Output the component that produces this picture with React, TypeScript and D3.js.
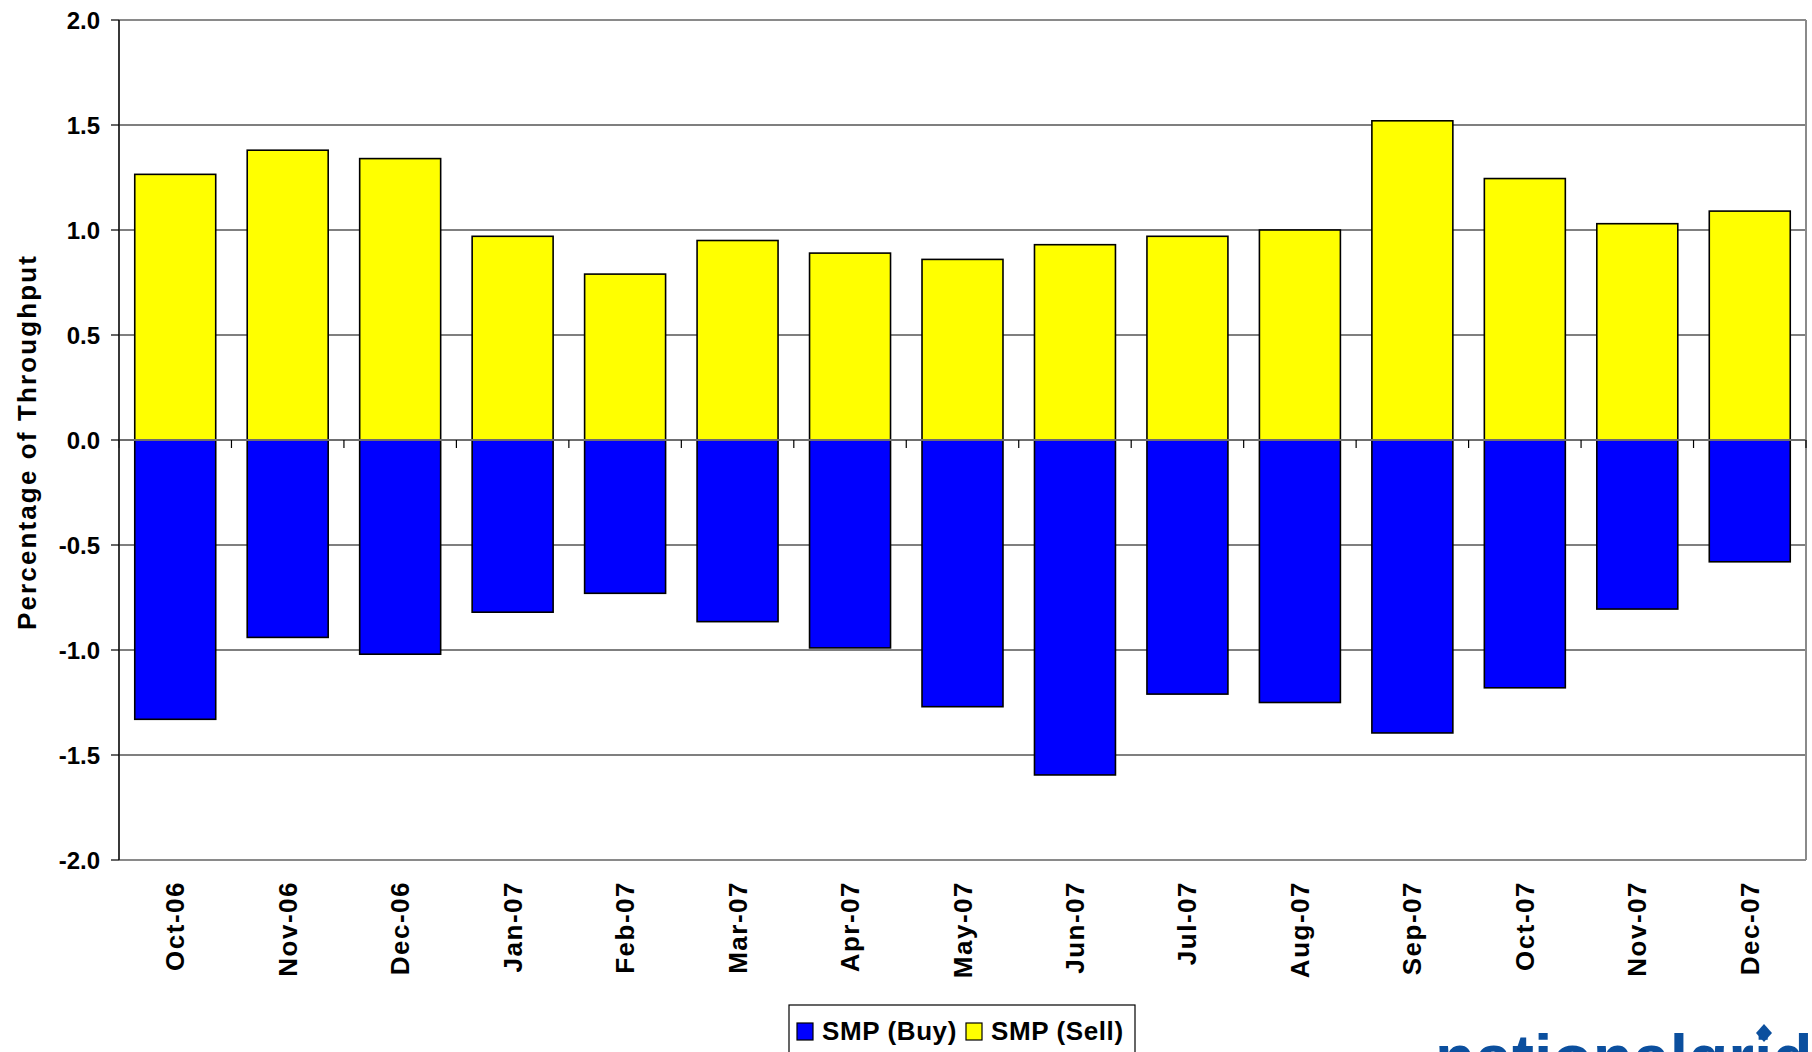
import * as d3 from 'd3';

const months = [
  'Oct-06', 'Nov-06', 'Dec-06', 'Jan-07', 'Feb-07', 'Mar-07', 'Apr-07', 'May-07',
  'Jun-07', 'Jul-07', 'Aug-07', 'Sep-07', 'Oct-07', 'Nov-07', 'Dec-07',
];
const smpBuy = [-1.33, -0.94, -1.02, -0.82, -0.73, -0.865, -0.99, -1.27, -1.595, -1.21, -1.25, -1.395, -1.18, -0.805, -0.58];
const smpSell = [1.265, 1.38, 1.34, 0.97, 0.79, 0.95, 0.89, 0.86, 0.93, 0.97, 1.0, 1.52, 1.245, 1.03, 1.09];
const yTicks = [-2.0, -1.5, -1.0, -0.5, 0.0, 0.5, 1.0, 1.5, 2.0];
const seriesKeys = ['buy', 'sell'];
const seriesLabels = ['SMP (Buy)', 'SMP (Sell)'];
const seriesColors = ['#0000ff', '#ffff00'];

const W = 1812;
const H = 1052;
const left = 119;
const right = 1806;
const top = 20;
const bottom = 860;
const font = 'Arial, "Liberation Sans", sans-serif';

// Excel style tick text: plain hyphen for negatives
const fmt = (v: number) => d3.format('.1f')(v).replace('\u2212', '-');

export default function App() {
  const x = d3.scaleBand<string>()
    .domain(months)
    .range([left, right])
    .paddingInner(0.28)
    .paddingOuter(0.14);
  const y = d3.scaleLinear().domain([-2, 2]).range([bottom, top]);

  const rows = months.map((m, i) => ({ month: m, buy: smpBuy[i], sell: smpSell[i] }));
  const stacked = d3.stack<any>()
    .keys(seriesKeys)
    .offset(d3.stackOffsetDiverging)(rows);

  const step = x.step();
  const boundaries = d3.range(months.length + 1).map(i => left + i * step);

  return (
    <svg
      width={W}
      height={H}
      viewBox={`0 0 ${W} ${H}`}
      style={{ position: 'absolute', left: 0, top: 0, display: 'block', background: '#fff' }}
      fontFamily={font}
    >
      {/* gridlines */}
      {yTicks.filter(t => t !== 0 && t !== -2 && t !== 2).map(t => (
        <line key={t} x1={left} x2={right} y1={y(t)} y2={y(t)} stroke="#000" strokeWidth={1.2} />
      ))}
      {/* plot frame */}
      <line x1={left} x2={right} y1={top} y2={top} stroke="#8a8a8a" strokeWidth={2} />
      <line x1={right} x2={right} y1={top} y2={bottom} stroke="#8a8a8a" strokeWidth={2} />
      <line x1={left} x2={right} y1={bottom} y2={bottom} stroke="#8a8a8a" strokeWidth={2} />

      {/* bars */}
      {stacked.map((s, si) => (
        <g key={s.key}>
          {s.map((d, i) => (
            <rect
              key={i}
              x={x(months[i])}
              y={y(Math.max(d[0], d[1]))}
              width={x.bandwidth()}
              height={Math.abs(y(d[0]) - y(d[1]))}
              fill={seriesColors[si]}
              stroke="#000"
              strokeWidth={1.6}
            />
          ))}
        </g>
      ))}

      {/* zero axis with category ticks */}
      <line x1={left} x2={right} y1={y(0)} y2={y(0)} stroke="#6e6e6e" strokeWidth={2} />
      {boundaries.map((bx, i) => (
        <line key={i} x1={bx} x2={bx} y1={y(0)} y2={y(0) + 8} stroke="#000" strokeWidth={1.2} />
      ))}

      {/* y axis */}
      <line x1={left} x2={left} y1={top} y2={bottom} stroke="#222" strokeWidth={1.8} />
      {yTicks.map(t => (
        <g key={t}>
          <line x1={left - 8} x2={left} y1={y(t)} y2={y(t)} stroke="#000" strokeWidth={1.2} />
          <text
            x={100}
            y={y(t)}
            textAnchor="end"
            dominantBaseline="central"
            fontSize={24}
            fontWeight="bold"
          >
            {fmt(t)}
          </text>
        </g>
      ))}
      <text
        transform={`translate(27, ${(256 + 630) / 2}) rotate(-90)`}
        textAnchor="middle"
        dominantBaseline="central"
        fontSize={26}
        fontWeight="bold"
        textLength={374}
        lengthAdjust="spacing"
      >
        Percentage of Throughput
      </text>

      {/* x labels */}
      {months.map(m => (
        <text
          key={m}
          transform={`translate(${(x(m) ?? 0) + x.bandwidth() / 2}, 881) rotate(-90)`}
          textAnchor="end"
          dominantBaseline="central"
          fontSize={26}
          fontWeight="bold"
          letterSpacing={1.5}
        >
          {m}
        </text>
      ))}

      {/* legend */}
      <rect x={789} y={1005} width={346} height={70} fill="#fff" stroke="#000" strokeWidth={1.2} />
      {seriesLabels.map((lab, i) => {
        const lx = i === 0 ? 797 : 966;
        return (
          <g key={lab}>
            <rect x={lx} y={1023} width={16} height={17} fill={seriesColors[i]} stroke="#000" strokeWidth={1.2} />
            <text x={lx + 25} y={1040} fontSize={26} fontWeight="bold" letterSpacing={0.6}>{lab}</text>
          </g>
        );
      })}

      {/* logo, cut off by the page edge as in the source */}
      <text x={1435} y={1081} fontSize={66} fontWeight="bold" fill="#0b4f9e">nationalgrid</text>
      <path d="M1764,1024 L1772,1033 L1764,1042 L1756,1033 Z" fill="#0b4f9e" />
    </svg>
  );
}
